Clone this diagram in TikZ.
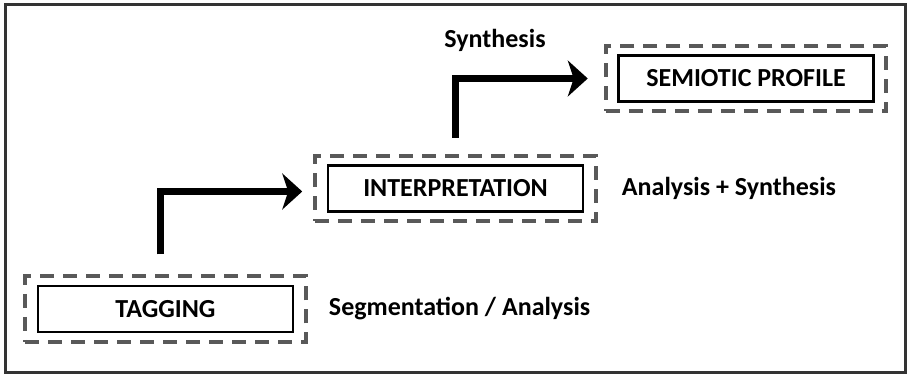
\documentclass[tikz,border=0pt]{standalone}
\usepackage{fontspec}
\setmainfont{Carlito}
\usetikzlibrary{positioning,fit,arrows.meta}

\begin{document}
\begin{tikzpicture}[x=1pt,y=-1pt,
    stagebox/.style={draw,line width=2.5pt,minimum width=255pt,minimum height=46pt,
      font=\bfseries\fontsize{26}{30}\selectfont},
    stageframe/.style={draw=black!65,line width=4pt,dash pattern=on 14pt off 9pt,
      inner xsep=11.5pt,inner ysep=8.5pt},
    flowarrow/.style={line width=7pt,-{Stealth[length=20pt,width=36pt,inset=6pt]}},
    steplabel/.style={inner sep=0pt,font=\bfseries\fontsize{26}{30}\selectfont}]
   \useasboundingbox (0,0) rectangle (909,374);
   \draw[line width=3pt,black!80] (5,5) rectangle (905,372);

   % stages
   \node[stagebox] (tagging) at (165.5,309) {TAGGING};
   \node[stageframe,fit=(tagging)] (tagframe) {};
   \node[stagebox] (interp) at (455.5,188.5) {INTERPRETATION};
   \node[stageframe,fit=(interp)] (interpframe) {};
   \node[stagebox] (semiotic) at (746,78.5) {SEMIOTIC PROFILE};
   \node[stageframe,fit=(semiotic)] (semframe) {};

   % labels
   \node[steplabel,right=21pt of tagframe] (seglabel) {Segmentation / Analysis};
   \node[steplabel,right=24pt of interpframe] (anslabel) {Analysis + Synthesis};
   \node[steplabel] (synlabel) at (495,40) {Synthesis};

   % steps
   \draw[flowarrow] ([xshift=-5pt,yshift=20pt]tagframe.north)
      |- ([xshift=-11pt,yshift=-3pt]interpframe.west);
   \draw[flowarrow] ([yshift=16pt]interpframe.north)
      |- ([xshift=-16pt]semframe.west);
\end{tikzpicture}
\end{document}
